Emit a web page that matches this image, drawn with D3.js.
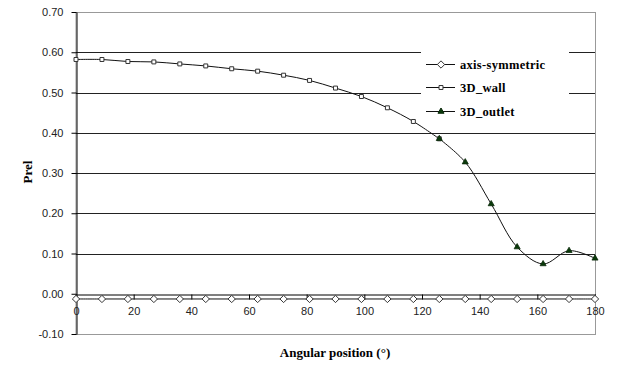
<!DOCTYPE html>
<html><head><meta charset="utf-8">
<script src="https://cdn.jsdelivr.net/npm/d3@7"></script>
<style>body{margin:0;background:#fff}svg{display:block}</style>
</head><body>
<svg id="c" width="618" height="365"></svg>
<script>
const axisX = [0,9,18,27,36,45,54,63,72,81,90,99,108,117,126,135,144,153,162,171,180];
const axisY = [-0.013,-0.013,-0.013,-0.013,-0.013,-0.013,-0.013,-0.013,-0.013,-0.013,-0.013,-0.013,-0.013,-0.013,-0.013,-0.013,-0.013,-0.013,-0.013,-0.013,-0.013];
const wallX = [0,9,18,27,36,45,54,63,72,81,90,99,108,117,126];
const wallY = [0.582,0.582,0.577,0.576,0.571,0.566,0.559,0.553,0.543,0.530,0.511,0.490,0.462,0.428,0.385];
const outX = [126,135,144,153,162,171,180];
const outY = [0.385,0.327,0.223,0.116,0.074,0.107,0.088];
const xTicks = [0,20,40,60,80,100,120,140,160,180];
const yTicks = [-0.10,0.00,0.10,0.20,0.30,0.40,0.50,0.60,0.70];
const seriesNames = ["axis-symmetric","3D_wall","3D_outlet"];

const svg = d3.select("#c");
const L=76,R=595,T=12,B=334;
const x = d3.scaleLinear().domain([0,180]).range([L,R]);
const y = d3.scaleLinear().domain([-0.10,0.70]).range([B,T]);

svg.append("rect").attr("x",L).attr("y",T+0.5).attr("width",R-L+0.5).attr("height",B-T)
  .attr("fill","none").attr("stroke","#999").attr("stroke-width",1);

svg.append("g").selectAll("line").data(yTicks.filter(v=>v>0.05&&v<0.65)).join("line")
  .attr("x1",L).attr("x2",R).attr("y1",d=>Math.round(y(d))+0.5).attr("y2",d=>Math.round(y(d))+0.5)
  .attr("stroke","#222").attr("stroke-width",1);

const ya = svg.append("g").attr("transform",`translate(${L+0.5},0)`)
  .call(d3.axisLeft(y).tickValues(yTicks).tickFormat(d=>d.toFixed(2)).tickSize(5).tickSizeOuter(0));
ya.select(".domain").attr("stroke","#000");
ya.selectAll(".tick line").attr("stroke","#000");
ya.selectAll("text").attr("font-family","Liberation Sans, Arial, sans-serif").attr("font-size",11).attr("fill","#222").attr("x",-13);

const xa = svg.append("g").attr("transform",`translate(0,${Math.round(y(0))+0.5})`)
  .call(d3.axisBottom(x).tickValues(xTicks).tickSize(5).tickSizeOuter(0));
xa.select(".domain").attr("stroke","#000");
xa.selectAll(".tick line").attr("stroke","#000");
xa.selectAll("text").attr("font-family","Liberation Sans, Arial, sans-serif").attr("font-size",11).attr("fill","#222").attr("y",13);

const line = d3.line().x(d=>x(d[0])).y(d=>y(d[1])).curve(d3.curveCatmullRom.alpha(0.5));
const axisData = axisX.map((v,i)=>[v,axisY[i]]);
const wallData = wallX.map((v,i)=>[v,wallY[i]]);
const outData = outX.map((v,i)=>[v,outY[i]]);

[axisData,wallData,outData].forEach(d=>{
  svg.append("path").attr("d",line(d)).attr("fill","none").attr("stroke","#111").attr("stroke-width",1);
});

const diamond = d3.symbol().type(d3.symbolDiamond2).size(34);
const square = d3.symbol().type(d3.symbolSquare2).size(20);
const tri = d3.symbol().type(d3.symbolTriangle).size(16);

svg.append("g").selectAll("path").data(axisData).join("path")
  .attr("transform",d=>`translate(${x(d[0])},${y(d[1])})`).attr("d",diamond)
  .attr("fill","#fff").attr("stroke","#333").attr("stroke-width",1);
svg.append("g").selectAll("path").data(wallData).join("path")
  .attr("transform",d=>`translate(${x(d[0])},${y(d[1])})`).attr("d",square)
  .attr("fill","#fff").attr("stroke","#333").attr("stroke-width",1);
svg.append("g").selectAll("path").data(outData).join("path")
  .attr("transform",d=>`translate(${x(d[0])},${y(d[1])})`).attr("d",tri)
  .attr("fill","#0a3a0a").attr("stroke","#0a2a0a").attr("stroke-width",0.8);

const lg = svg.append("g");
lg.append("rect").attr("x",421).attr("y",52).attr("width",148).attr("height",68).attr("fill","#fff");
const ly = [64,87,111];
const syms = [diamond,square,tri];
const fills = ["#fff","#fff","#0a3a0a"];
seriesNames.forEach((n,i)=>{
  lg.append("line").attr("x1",426).attr("x2",455).attr("y1",ly[i]+0.5).attr("y2",ly[i]+0.5).attr("stroke","#111");
  lg.append("path").attr("transform",`translate(441,${ly[i]+0.5})`).attr("d",syms[i])
    .attr("fill",fills[i]).attr("stroke",i==2?"#0a2a0a":"#333");
  lg.append("text").attr("x",460).attr("y",ly[i]+4.5).text(n)
    .attr("font-family","Liberation Serif, Times New Roman, serif").attr("font-weight","bold").attr("font-size",12.5)
    .attr("letter-spacing",0.3).attr("fill","#000");
});

svg.append("text").attr("x",335).attr("y",357).attr("text-anchor","middle").text("Angular position (°)")
  .attr("font-family","Liberation Serif, Times New Roman, serif").attr("font-weight","bold").attr("font-size",13);
svg.append("text").attr("transform","translate(32,172) rotate(-90)").attr("text-anchor","middle").text("Prel")
  .attr("font-family","Liberation Serif, Times New Roman, serif").attr("font-weight","bold").attr("font-size",13);
</script>
</body></html>
